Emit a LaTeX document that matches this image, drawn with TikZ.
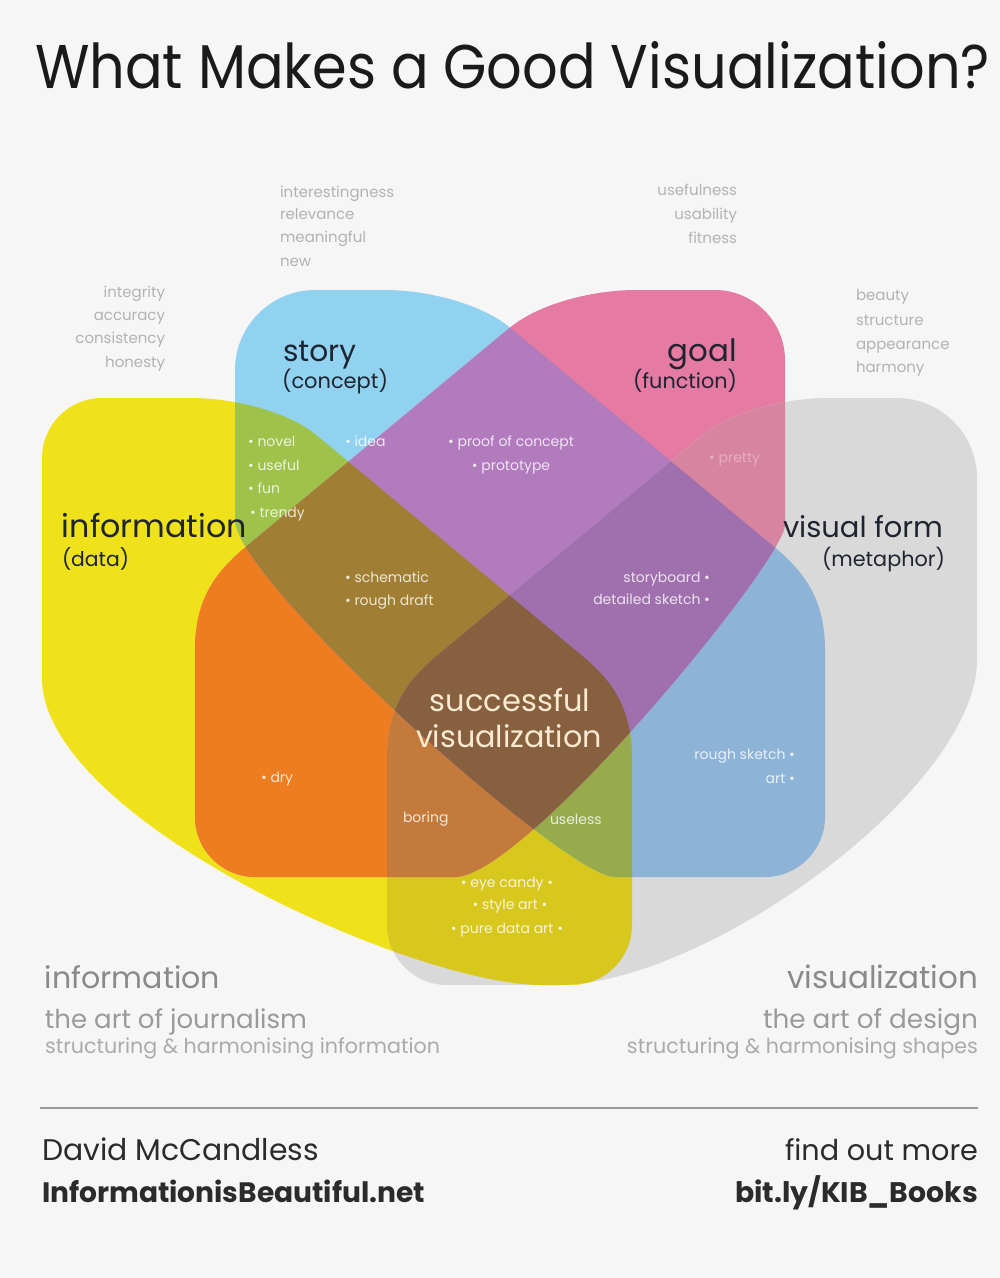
\documentclass[tikz,border=0pt]{standalone}
\usepackage{fontspec}
\setmainfont{Poppins}
\usepackage{graphicx}
\definecolor{bgc}{HTML}{F6F6F6}
\definecolor{cY}{HTML}{EFE21A}
\definecolor{cB}{HTML}{90D2EF}
\definecolor{cP}{HTML}{E57AA3}
\definecolor{cG}{HTML}{D9D9D9}
\definecolor{cYB}{HTML}{9EC24A}
\definecolor{cYP}{HTML}{EE7D22}
\definecolor{cYG}{HTML}{D8C81E}
\definecolor{cBP}{HTML}{B27BBD}
\definecolor{cBG}{HTML}{8DB3D6}
\definecolor{cPG}{HTML}{D6849F}
\definecolor{cYBP}{HTML}{A07F35}
\definecolor{cYBG}{HTML}{97AB4C}
\definecolor{cYPG}{HTML}{C47A3A}
\definecolor{cBPG}{HTML}{9F70AD}
\definecolor{cYBPG}{HTML}{86603F}
\definecolor{titc}{HTML}{1A1A1A}
\definecolor{labc}{HTML}{1F2430}
\definecolor{kwc}{HTML}{B3B3B3}
\definecolor{cream}{HTML}{FBEAD2}
\definecolor{bot1}{HTML}{8A8A8A}
\definecolor{bot2}{HTML}{9A9A9A}
\definecolor{bot3}{HTML}{ABABAB}
\definecolor{footc}{HTML}{2B2B2B}
% blob: #1 ox, #2 oy, #3 mirror sign, #4 bottom flat end, #5 ctrl1 x, #6 ctrl2 y, #7 side flat end, #8 outer corner radius
\newcommand\blob[8]{({#1+#3*#8},{#2}) -- ({#1+#3*150},{#2}) .. controls ({#1+#3*190},{#2}) and ({#1+#3*245},{#2+12.7}) .. ({#1+#3*275},{#2+37.6}) -- ({#1+#3*540},{#2+257.6}) .. controls ({#1+#3*570},{#2+282.5}) and ({#1+#3*590},{#2+310}) .. ({#1+#3*590},{#2+360}) -- ({#1+#3*590},{#2+527}) .. controls ({#1+#3*590},{#2+560}) and ({#1+#3*563},{#2+587}) .. ({#1+#3*530},{#2+587}) -- ({#1+#3*#4},{#2+587}) .. controls ({#1+#3*#5},{#2+587}) and ({#1},{#2+#6}) .. ({#1},{#2+#7}) -- ({#1},{#2+#8}) .. controls ({#1},{#2+0.45*#8}) and ({#1+#3*0.45*#8},{#2}) .. ({#1+#3*#8},{#2}) -- cycle}
\newcommand\pY{\blob{42}{398}{1}{500}{370}{420}{280}{60}}
\newcommand\pB{\blob{235}{290}{1}{380}{330}{290}{230}{80}}
\newcommand\pP{\blob{785}{290}{-1}{330}{260}{270}{235}{70}}
\newcommand\pG{\blob{977}{398}{-1}{420}{270}{390}{262}{80}}
\newcommand\fitw[2]{\resizebox{#1pt}{!}{#2}}
\tikzset{
  txt/.style={inner sep=0pt, outer sep=0pt},
  lbl/.style={txt, text=labc},
  kw/.style={txt, text=kwc, font=\fontsize{15}{15}\selectfont},
  inr/.style={txt, text=white, text opacity=0.8, font=\fontsize{14}{14}\selectfont},
  btm/.style={txt},
  foot/.style={txt, text=footc},
  footline/.style={draw=bot2, line width=1.5pt},
}
\begin{document}
\begin{tikzpicture}[x=1pt,y=-1pt]
\useasboundingbox (0,0) rectangle (1000,1278);
\fill[bgc] (0,0) rectangle (1000,1278);
% single sets
\fill[cY] \pY;
\fill[cB] \pB;
\fill[cP] \pP;
\fill[cG] \pG;
% pairs
\begin{scope}\clip \pY; \fill[cYB] \pB;\end{scope}
\begin{scope}\clip \pY; \fill[cYP] \pP;\end{scope}
\begin{scope}\clip \pY; \fill[cYG] \pG;\end{scope}
\begin{scope}\clip \pB; \fill[cBP] \pP;\end{scope}
\begin{scope}\clip \pB; \fill[cBG] \pG;\end{scope}
\begin{scope}\clip \pP; \fill[cPG] \pG;\end{scope}
% triples
\begin{scope}\clip \pY; \clip \pB; \fill[cYBP] \pP;\end{scope}
\begin{scope}\clip \pY; \clip \pB; \fill[cYBG] \pG;\end{scope}
\begin{scope}\clip \pY; \clip \pP; \fill[cYPG] \pG;\end{scope}
\begin{scope}\clip \pB; \clip \pP; \fill[cBPG] \pG;\end{scope}
% all four
\begin{scope}\clip \pY; \clip \pB; \clip \pP; \fill[cYBPG] \pG;\end{scope}

% title
\node[txt, text=titc, anchor=base west] (title) at (35,88) {\resizebox{955pt}{47pt}{\fontsize{60}{60}\selectfont What Makes a Good Visualization?}};

% keyword lists
\node[kw, anchor=base west] (ks1) at (280,197) {interestingness};
\node[kw, anchor=base west] (ks2) at (280,219) {relevance};
\node[kw, anchor=base west] (ks3) at (280,242) {meaningful};
\node[kw, anchor=base west] (ks4) at (280,266) {new};
\node[kw, anchor=base east] (kg1) at (737,195) {usefulness};
\node[kw, anchor=base east] (kg2) at (737,219) {usability};
\node[kw, anchor=base east] (kg3) at (737,243) {fitness};
\node[kw, anchor=base east] (ki1) at (165,297) {integrity};
\node[kw, anchor=base east] (ki2) at (165,320) {accuracy};
\node[kw, anchor=base east] (ki3) at (165,343) {consistency};
\node[kw, anchor=base east] (ki4) at (165,367) {honesty};
\node[kw, anchor=base west] (kv1) at (856,300) {beauty};
\node[kw, anchor=base west] (kv2) at (856,325) {structure};
\node[kw, anchor=base west] (kv3) at (856,349) {appearance};
\node[kw, anchor=base west] (kv4) at (856,372) {harmony};

% set labels
\node[lbl, anchor=base west] (story) at (283,361) {\fitw{73}{\fontsize{30}{30}\selectfont story}};
\node[lbl, anchor=base west] (concept) at (282,388) {\fitw{106}{\fontsize{20}{20}\selectfont (concept)}};
\node[lbl, anchor=base east] (goal) at (737,361) {\fitw{69}{\fontsize{30}{30}\selectfont goal}};
\node[lbl, anchor=base east] (function) at (737,388) {\fitw{104}{\fontsize{20}{20}\selectfont (function)}};
\node[lbl, anchor=base west] (information) at (62,537) {\fitw{185}{\fontsize{30}{30}\selectfont information}};
\node[lbl, anchor=base west] (data) at (62,566) {\fitw{67}{\fontsize{20}{20}\selectfont (data)}};
\node[lbl, anchor=base east] (visualform) at (943,537) {\fitw{160}{\fontsize{30}{30}\selectfont visual form}};
\node[lbl, anchor=base east] (metaphor) at (945,566) {\fitw{123}{\fontsize{20}{20}\selectfont (metaphor)}};
\node[txt, text=cream, anchor=base] (succ) at (510,711) {\fitw{160}{\fontsize{30}{30}\selectfont successful}};
\node[txt, text=cream, anchor=base] (visu) at (509,747) {\fitw{186}{\fontsize{30}{30}\selectfont visualization}};

% inner region texts
\node[inr, anchor=base west] (idea) at (345,446) {• idea};
\node[inr, anchor=base] (proof) at (511,446) {• proof of concept};
\node[inr, anchor=base] (proto) at (511,470) {• prototype};
\node[inr, anchor=base west] (g1) at (248,446) {• novel};
\node[inr, anchor=base west] (g2) at (248,470) {• useful};
\node[inr, anchor=base west] (g3) at (248,493) {• fun};
\node[inr, anchor=base west] (g4) at (250,517) {• trendy};
\node[inr, anchor=base west] (schem) at (345,582) {• schematic};
\node[inr, anchor=base west] (rough) at (345,605) {• rough draft};
\node[inr, anchor=base east] (sboard) at (710,582) {storyboard •};
\node[inr, anchor=base east] (dsketch) at (710,604) {detailed sketch •};
\node[inr, anchor=base east, text opacity=0.35] (pretty) at (760,462) {• pretty};
\node[inr, anchor=base west] (dry) at (261,782) {• dry};
\node[inr, anchor=base west] (boring) at (403,822) {boring};
\node[inr, anchor=base west] (useless) at (550,824) {useless};
\node[inr, anchor=base east] (rsketch) at (795,759) {rough sketch •};
\node[inr, anchor=base east] (art) at (795,783) {art •};
\node[inr, anchor=base] (eye) at (507,887) {• eye candy •};
\node[inr, anchor=base] (style) at (510,909) {• style art •};
\node[inr, anchor=base] (pure) at (507,933) {• pure data art •};

% bottom captions
\node[btm, text=bot1, anchor=base west] (binfo) at (45,988) {\fitw{175}{\fontsize{28}{28}\selectfont information}};
\node[btm, text=bot2, anchor=base west] (bjour) at (45,1028) {\fitw{262}{\fontsize{22}{22}\selectfont the art of journalism}};
\node[btm, text=bot3, anchor=base west] (bstruct1) at (45,1053) {\fitw{395}{\fontsize{16}{16}\selectfont structuring \& harmonising information}};
\node[btm, text=bot1, anchor=base east] (bvis) at (978,988) {\fitw{191}{\fontsize{28}{28}\selectfont visualization}};
\node[btm, text=bot2, anchor=base east] (bdes) at (978,1028) {\fitw{215}{\fontsize{22}{22}\selectfont the art of design}};
\node[btm, text=bot3, anchor=base east] (bstruct2) at (978,1053) {\fitw{351}{\fontsize{16}{16}\selectfont structuring \& harmonising shapes}};

% footer
\coordinate (fl1) at (40,1108);
\coordinate (fl2) at (978,1108);
\draw[footline] (fl1) -- (fl2);
\node[foot, anchor=base west] (author) at (42,1160) {\fitw{277}{\fontsize{26}{26}\selectfont David McCandless}};
\node[foot, anchor=base west] (site) at (42,1202) {\fitw{383}{\fontsize{26}{26}\selectfont\bfseries InformationisBeautiful.net}};
\node[foot, anchor=base east] (more) at (978,1160) {\fitw{193}{\fontsize{26}{26}\selectfont find out more}};
\node[foot, anchor=base east] (link) at (978,1202) {\fitw{243}{\fontsize{26}{26}\selectfont\bfseries bit.ly/KIB\_Books}};
\end{tikzpicture}
\end{document}
